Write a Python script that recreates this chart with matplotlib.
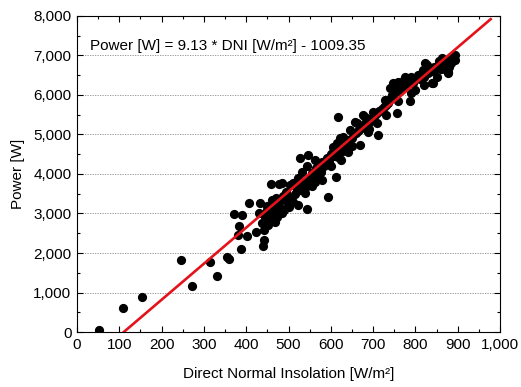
import matplotlib
matplotlib.use("Agg")
import matplotlib.pyplot as plt
import numpy as np
from matplotlib.ticker import MultipleLocator, FuncFormatter

plt.rcParams['font.family'] = ['Liberation Sans', 'DejaVu Sans']

dni = [52, 108, 153, 246, 273, 314, 330, 354, 359,
       372, 389, 383, 381, 401, 387, 407, 433, 423, 437, 441, 441, 439, 458, 472, 468, 458, 478, 475, 478,
       460, 484, 496, 472, 500, 523, 543, 484, 448, 484, 504, 519, 539, 511, 547, 563, 523, 531, 543, 555,
       578, 612, 594, 526, 547, 563, 598, 618, 641, 637, 614, 622, 645, 661, 681, 618, 712, 669, 677, 657,
       630, 606, 622, 689, 700, 728, 756, 787, 740, 760, 775, 772, 799, 795, 811, 839, 827, 850, 862, 878,
       894, 748, 819, 866, 842, 823, 894, 878,
       488, 495, 505, 510, 515, 520, 528, 535, 540, 550, 555, 560, 565, 570, 575, 580, 585, 590, 595, 600,
       605, 610, 615, 620, 625, 630, 635, 640, 650, 655, 660, 665, 670, 675, 680, 685, 690, 695, 700, 705,
       710, 715, 720, 725, 730, 735, 740, 745, 750, 755, 760, 765, 770, 780, 785, 790, 800, 805, 810, 815,
       820, 830, 835, 845, 855, 860, 870, 875, 880, 885, 890, 855, 840, 870, 885,
       570, 580, 600, 625, 650, 690, 710, 730, 760, 790, 820, 850, 880,
       445, 450, 462, 466, 470, 480, 490, 430, 452, 462]
power = [40, 600, 890, 1820, 1160, 1780, 1430, 1900, 1850,
         2990, 2960, 2690, 2450, 2440, 2090, 3260, 3260, 2540, 2750, 2580, 2330, 2180, 3000, 2920, 2790, 3750, 3750, 3050, 3300,
         3340, 3380, 3300, 3170, 3170, 3215, 3105, 3000, 3090, 3760, 3720, 3595, 3510, 3760, 3760, 3800, 3890, 4060, 4190, 4020,
         4060, 3930, 3410, 4410, 4480, 4350, 4440, 4440, 4560, 4690, 4780, 4900, 5110, 5280, 5450, 5435, 4990, 4730, 5490, 5325,
         4945, 4690, 4780, 5070, 5580, 5870, 5540, 5860, 6170, 6340, 6460, 6210, 6130, 6300, 6500, 6300, 6760, 6680, 6930, 6550,
         6890, 6300, 6630, 6760, 6310, 6800, 7010, 6590,
         3450, 3550, 3400, 3300, 3500, 3700, 3600, 3800, 3650, 3900, 3700, 4000, 4150, 4100, 4250, 4300, 4200, 4400, 4300, 4500,
         4550, 4450, 4600, 4650, 4550, 4700, 4800, 4850, 4900, 5000, 5050, 5100, 5150, 5250, 5200, 5300, 5400, 5350, 5450, 5500,
         5550, 5600, 5650, 5700, 5750, 5800, 5900, 6000, 6050, 6150, 6100, 6250, 6350, 6300, 6400, 6450, 6400, 6500, 6400, 6550,
         6450, 6550, 6650, 6700, 6750, 6650, 6800, 6850, 6750, 6900, 6950, 6850, 6600, 6650, 6800,
         3900, 3850, 4200, 4350, 4700, 5150, 5300, 5500, 5850, 6050, 6250, 6450, 6700,
         2900, 3200, 3100, 3250, 3400, 3150, 3100, 3000, 2700, 2850]

slope = 9.13
intercept = -1009.35
fit_x = [1009.35 / 9.13, 978]

fig = plt.figure(figsize=(5.21, 3.87), dpi=100)
ax = fig.add_axes([0.1478, 0.1421, 0.9597 - 0.1478, 0.9587 - 0.1421])

ax.scatter(dni, power, s=44, color='black', zorder=3, linewidths=0)
fx = np.array(fit_x)
ax.plot(fx, slope * fx + intercept, color='#e3131b', lw=1.9, zorder=4)

ax.set_xlim(0, 1000)
ax.set_ylim(0, 8000)
ax.xaxis.set_major_locator(MultipleLocator(100))
ax.xaxis.set_minor_locator(MultipleLocator(50))
ax.yaxis.set_major_locator(MultipleLocator(1000))
ax.yaxis.set_minor_locator(MultipleLocator(500))
fmt = FuncFormatter(lambda v, p: f"{int(v):,}")
ax.xaxis.set_major_formatter(fmt)
ax.yaxis.set_major_formatter(fmt)
ax.tick_params(which='both', direction='in', top=True, right=True, labelsize=11, width=0.8)
ax.tick_params(which='major', length=4.5, pad=4)
ax.tick_params(which='minor', length=2.5)
for sp in ax.spines.values():
    sp.set_linewidth(0.8)

ax.yaxis.grid(True, which='major', linestyle=(0, (1.5, 1.5)), color='#888888', lw=0.6)
ax.set_axisbelow(True)

ax.set_xlabel('Direct Normal Insolation [W/m²]', fontsize=11, labelpad=11)
ax.set_ylabel('Power [W]', fontsize=11, labelpad=6)
ax.text(0.03, 0.905, 'Power [W] = 9.13 * DNI [W/m²] - 1009.35', transform=ax.transAxes,
        fontsize=11, va='center', ha='left')

fig.savefig('out.png', dpi=100)
